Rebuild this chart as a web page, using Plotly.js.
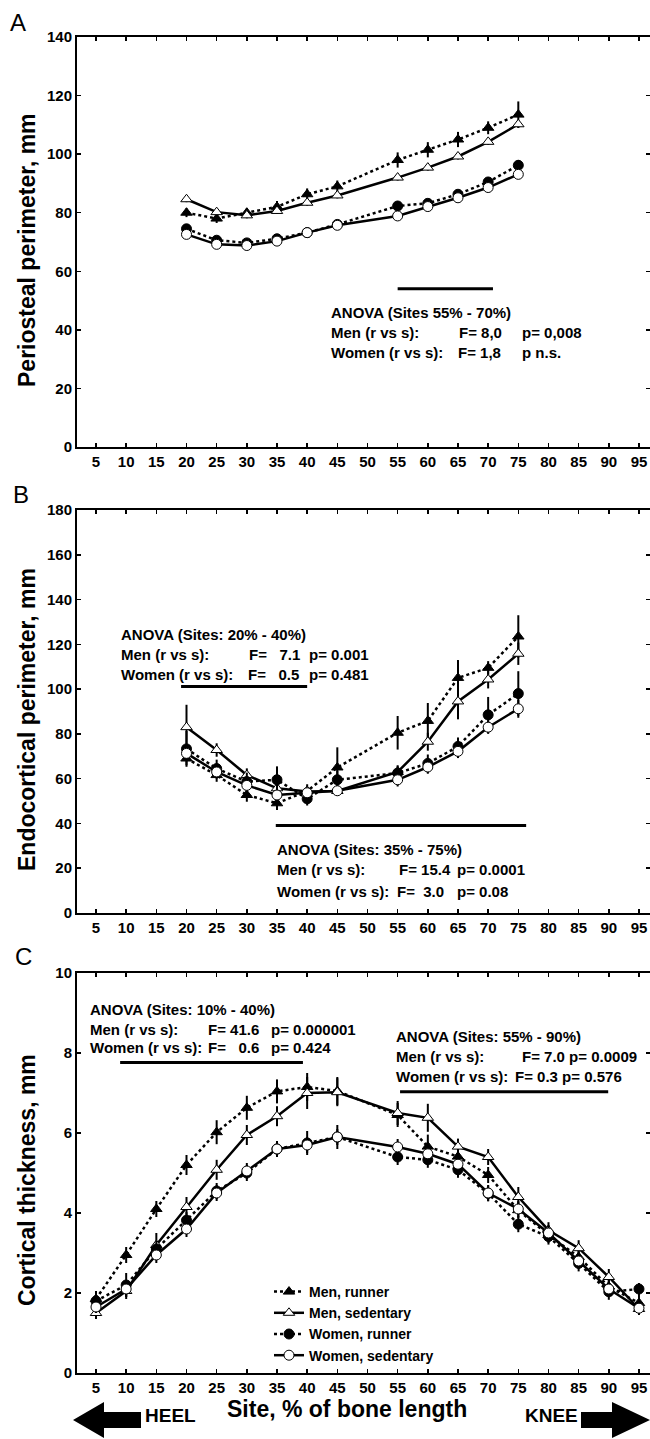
<!DOCTYPE html>
<html>
<head>
<meta charset="utf-8">
<script src="https://cdn.plot.ly/plotly-3.0.1.min.js"></script>
<style>
  html, body { margin: 0; padding: 0; background: #fff; }
  #chart { width: 650px; height: 1439px; }
</style>
</head>
<body>
<div id="chart"></div>
<script>
// ---------------- DATA ----------------
const sitesAB = [20, 25, 30, 35, 40, 45, 55, 60, 65, 70, 75];
const sitesC  = [5, 10, 15, 20, 25, 30, 35, 40, 45, 55, 60, 65, 70, 75, 80, 85, 90, 95];
const xTicks  = [5, 10, 15, 20, 25, 30, 35, 40, 45, 50, 55, 60, 65, 70, 75, 80, 85, 90, 95];
const seriesNames = ['Men, runner', 'Men, sedentary', 'Women, runner', 'Women, sedentary'];

// Panel A: periosteal perimeter, mm
const A_menRunner      = [80, 78, 80, 82, 86.3, 89, 98, 101.5, 105, 109, 113.5];
const A_menRunnerErr   = [1.5, 1.5, 1.5, 2, 2, 2, 2.6, 2.6, 2.6, 2.2, 4.5];
const A_menSed         = [84.6, 80.2, 79.1, 80.6, 83.4, 85.9, 92, 95.4, 99.2, 104.2, 110.2];
const A_menSedErr      = [1, 1, 1, 1, 1, 1, 1, 1, 1, 1, 1.2];
const A_womenRunner    = [74.5, 70.6, 69.7, 71.1, 73.2, 76, 82.3, 83.2, 86.3, 90.5, 96.2];
const A_womenRunnerErr = [1.5, 1.2, 1.2, 1.2, 1.2, 1.5, 1.5, 1.5, 1.5, 1.5, 1.8];
const A_womenSed       = [72.6, 69.2, 68.8, 70.3, 73.2, 75.7, 78.9, 82.1, 85.1, 88.6, 93.1];
const A_womenSedErr    = [1, 1, 1, 1, 1, 1, 1, 1, 1, 1, 1.2];

// Panel B: endocortical perimeter, mm
const B_menRunner      = [69, 61.6, 52.7, 49, 54.5, 65, 80.5, 85.8, 105, 109.5, 123.5];
const B_menRunnerErr   = [3, 3, 3, 3, 3, 9, 7.5, 8, 8, 3, 9.5];
const B_menSed         = [83, 72.8, 61.6, 55.7, 54.3, 54.5, 63, 76.5, 94.5, 104.3, 115.8];
const B_menSedErr      = [10, 3, 3, 3, 2, 2, 3, 4, 8, 4, 5];
const B_womenRunner    = [73.3, 64.5, 58.7, 59.5, 51, 59.5, 62.5, 66.8, 74.4, 88.5, 98];
const B_womenRunnerErr = [8, 4, 4, 6, 3, 4, 3, 4, 4, 8, 10];
const B_womenSed       = [71.3, 63, 57, 52.7, 53.7, 54.6, 59.5, 65.2, 72.2, 83, 91.2];
const B_womenSedErr    = [3, 3, 3, 3, 2, 2, 3, 3, 3, 3, 4];

// Panel C: cortical thickness, mm
const C_menRunner      = [1.85, 2.95, 4.1, 5.2, 6.02, 6.63, 7.04, 7.15, 7.05, 6.45, 5.66, 5.41, 4.95, 4.07, 3.45, 2.9, 2.16, 1.75];
const C_menRunnerErr   = [0.2, 0.2, 0.2, 0.25, 0.3, 0.3, 0.3, 0.35, 0.35, 0.3, 0.3, 0.2, 0.2, 0.2, 0.2, 0.2, 0.2, 0.2];
const C_menSed         = [1.5, 2.05, 3.2, 4.15, 5.08, 5.95, 6.42, 7.0, 7.02, 6.5, 6.38, 5.66, 5.4, 4.4, 3.57, 3.12, 2.4, 1.6];
const C_menSedErr      = [0.15, 0.2, 0.3, 0.25, 0.25, 0.25, 0.25, 0.4, 0.35, 0.3, 0.35, 0.2, 0.2, 0.25, 0.2, 0.2, 0.2, 0.15];
const C_womenRunner    = [1.8, 2.2, 3.1, 3.82, 4.55, 5.0, 5.6, 5.75, 5.9, 5.4, 5.33, 5.08, 4.49, 3.72, 3.41, 2.74, 2.03, 2.1];
const C_womenRunnerErr = [0.2, 0.3, 0.2, 0.2, 0.2, 0.2, 0.2, 0.3, 0.3, 0.2, 0.2, 0.2, 0.2, 0.2, 0.2, 0.2, 0.2, 0.15];
const C_womenSed       = [1.65, 2.1, 2.95, 3.6, 4.5, 5.05, 5.6, 5.7, 5.9, 5.65, 5.48, 5.22, 4.5, 4.1, 3.5, 2.8, 2.1, 1.62];
const C_womenSedErr    = [0.15, 0.2, 0.2, 0.2, 0.2, 0.2, 0.2, 0.2, 0.2, 0.2, 0.2, 0.2, 0.2, 0.2, 0.2, 0.2, 0.15, 0.15];

// ANOVA annotation texts and ranges
const anovaA = {
  bar: [55, 70.8, 54],
  lines: ['ANOVA (Sites 55% - 70%)', 'Men (r vs s):', 'Women (r vs s):'],
  F: ['', 'F=\u00a08,0', 'F=\u00a01,8'],
  p: ['', 'p=\u00a00,008', 'p n.s.']
};
const anovaB1 = {
  bar: [19.1, 40, 101.2],
  lines: ['ANOVA (Sites: 20% - 40%)', 'Men (r vs s):', 'Women (r vs s):'],
  F: ['', 'F=\u00a0\u00a0\u00a07.1', 'F=\u00a0\u00a0\u00a00.5'],
  p: ['', 'p=\u00a00.001', 'p=\u00a00.481']
};
const anovaB2 = {
  bar: [34.8, 76.3, 39.1],
  lines: ['ANOVA (Sites: 35% - 75%)', 'Men (r vs s):', 'Women (r vs s):'],
  F: ['', 'F=\u00a015.4', 'F=\u00a0\u00a03.0'],
  p: ['', 'p=\u00a00.0001', 'p=\u00a00.08']
};
const anovaC1 = {
  bar: [9.0, 39.3, 7.76],
  lines: ['ANOVA (Sites: 10% - 40%)', 'Men (r vs s):', 'Women (r vs s):'],
  F: ['', 'F=\u00a041.6', 'F=\u00a0\u00a0\u00a00.6'],
  p: ['', 'p=\u00a00.000001', 'p=\u00a00.424']
};
const anovaC2 = {
  bar: [55.4, 89.9, 7.03],
  lines: ['ANOVA (Sites: 55% - 90%)', 'Men (r vs s):', 'Women (r vs s):'],
  F: ['', 'F=\u00a07.0\u00a0p=\u00a00.0009', 'F=\u00a00.3\u00a0p=\u00a00.576'],
  p: ['', '', '']
};

// ---------------- STYLES ----------------
const W = 650, H = 1439;
const FONT = 'Liberation Sans, Arial, Helvetica, sans-serif';
const px2x = p => p / W;
const py2y = p => 1 - p / H;

const styles = [
  { dash: 'dot',   symbol: 'triangle-up', fill: '#000', size: 10 },
  { dash: 'solid', symbol: 'triangle-up', fill: '#fff', size: 10 },
  { dash: 'dot',   symbol: 'circle',      fill: '#000', size: 10 },
  { dash: 'solid', symbol: 'circle',      fill: '#fff', size: 10 }
];

function mk(x, y, err, i, xa, ya, legend) {
  const s = styles[i];
  return {
    type: 'scatter', mode: 'lines+markers',
    x: x, y: y, xaxis: xa, yaxis: ya,
    name: seriesNames[i], showlegend: legend, legendgroup: 'g' + i,
    line: { color: '#000', width: 2.5, dash: s.dash },
    marker: { symbol: s.symbol, size: s.size, color: s.fill, line: { color: '#000', width: 1 } },
    error_y: { type: 'data', array: err, visible: true, color: '#000', thickness: 2, width: 0 }
  };
}

const traces = [
  mk(sitesAB, A_menRunner, A_menRunnerErr, 0, 'x', 'y', false),
  mk(sitesAB, A_menSed, A_menSedErr, 1, 'x', 'y', false),
  mk(sitesAB, A_womenRunner, A_womenRunnerErr, 2, 'x', 'y', false),
  mk(sitesAB, A_womenSed, A_womenSedErr, 3, 'x', 'y', false),
  mk(sitesAB, B_menRunner, B_menRunnerErr, 0, 'x2', 'y2', false),
  mk(sitesAB, B_menSed, B_menSedErr, 1, 'x2', 'y2', false),
  mk(sitesAB, B_womenRunner, B_womenRunnerErr, 2, 'x2', 'y2', false),
  mk(sitesAB, B_womenSed, B_womenSedErr, 3, 'x2', 'y2', false),
  mk(sitesC, C_menRunner, C_menRunnerErr, 0, 'x3', 'y3', true),
  mk(sitesC, C_menSed, C_menSedErr, 1, 'x3', 'y3', true),
  mk(sitesC, C_womenRunner, C_womenRunnerErr, 2, 'x3', 'y3', true),
  mk(sitesC, C_womenSed, C_womenSedErr, 3, 'x3', 'y3', true)
];

const xDomain = [77 / W, 1.0];
const xRange = [5 + (77 - 96) / 6.033, 5 + (650 - 96) / 6.033];

function xAxis(anchor) {
  return {
    domain: xDomain, range: xRange, anchor: anchor,
    tickmode: 'array', tickvals: xTicks, ticktext: xTicks.map(String),
    ticks: 'inside', ticklen: 4, tickwidth: 1.5, tickcolor: '#000',
    showline: true, linewidth: 2, linecolor: '#000', mirror: 'ticks',
    showgrid: false, zeroline: false,
    tickfont: { family: FONT, size: 15, color: '#000', weight: 'bold' }
  };
}
function yAxis(anchor, top, bottom, range, dtick) {
  return {
    domain: [py2y(bottom), py2y(top)], range: range, anchor: anchor,
    dtick: dtick, tick0: 0,
    ticks: 'inside', ticklen: 4, tickwidth: 1.5, tickcolor: '#000',
    showline: true, linewidth: 2, linecolor: '#000', mirror: 'ticks',
    showgrid: false, zeroline: false,
    tickfont: { family: FONT, size: 15, color: '#000', weight: 'bold' }
  };
}

// ---------------- ANNOTATIONS ----------------
const annotations = [];
const shapes = [];
function txt(text, x, y, xref, yref, opts) {
  annotations.push(Object.assign({
    text: text, x: x, y: y, xref: xref, yref: yref,
    showarrow: false, xanchor: 'left', yanchor: 'middle',
    font: { family: FONT, size: 15, color: '#000', weight: 'bold' }
  }, opts || {}));
}
function anova(block, xa, ya, xText, xF, xP, yLines) {
  shapes.push({ type: 'line', xref: xa, yref: ya, x0: block.bar[0], x1: block.bar[1],
    y0: block.bar[2], y1: block.bar[2], line: { color: '#000', width: 3 } });
  for (let i = 0; i < 3; i++) {
    txt(block.lines[i], xText, yLines[i], xa, ya);
    if (block.F[i]) txt(block.F[i], xF[i], yLines[i], xa, ya);
    if (block.p[i]) txt(block.p[i], xP, yLines[i], xa, ya);
  }
}
anova(anovaA, 'x', 'y', 43.6, [0, 64.8, 64.6], 75.3, [45.9, 39.0, 32.2]);
anova(anovaB1, 'x2', 'y2', 8.8, [0, 30.0, 29.9], 40.0, [124.5, 115.5, 106.6]);
anova(anovaB2, 'x2', 'y2', 34.6, [0, 54.9, 54.6], 64.5, [28.2, 19.3, 9.5]);
anova(anovaC1, 'x3', 'y3', 3.6, [0, 23.2, 23.2], 33.6, [9.08, 8.6, 8.13]);
anova(anovaC2, 'x3', 'y3', 54.4, [0, 75.3, 74.2], 0, [8.41, 7.91, 7.41]);

// panel letters
const letterFont = { family: FONT, size: 24, color: '#000' };
txt('A', px2x(18), py2y(22), 'paper', 'paper', { xanchor: 'center', font: letterFont });
txt('B', px2x(21), py2y(494), 'paper', 'paper', { xanchor: 'center', font: letterFont });
txt('C', px2x(23), py2y(956), 'paper', 'paper', { xanchor: 'center', font: letterFont });

// axis titles
const titleFont = { family: FONT, size: 23, color: '#000', weight: 'bold' };
txt('Periosteal perimeter, mm', px2x(27), py2y(250), 'paper', 'paper', { xanchor: 'center', textangle: -90, font: titleFont });
txt('Endocortical perimeter, mm', px2x(27), py2y(720), 'paper', 'paper', { xanchor: 'center', textangle: -90, font: titleFont });
txt('Cortical thickness, mm', px2x(27), py2y(1180), 'paper', 'paper', { xanchor: 'center', textangle: -90, font: titleFont });
txt('Site, % of bone length', px2x(347), py2y(1409), 'paper', 'paper', { xanchor: 'center', font: titleFont });
const dirFont = { family: FONT, size: 19, color: '#000', weight: 'bold' };
txt('HEEL', px2x(170), py2y(1415), 'paper', 'paper', { xanchor: 'center', font: dirFont });
txt('KNEE', px2x(551), py2y(1415), 'paper', 'paper', { xanchor: 'center', font: dirFont });

// direction arrows
function poly(pts) {
  return 'M ' + pts.map(p => px2x(p[0]) + ',' + py2y(p[1])).join(' L ') + ' Z';
}
shapes.push({ type: 'path', xref: 'paper', yref: 'paper', fillcolor: '#000', line: { width: 0 },
  path: poly([[73, 1420], [104, 1402], [104, 1412], [141, 1412], [141, 1428], [104, 1428], [104, 1438]]) });
shapes.push({ type: 'path', xref: 'paper', yref: 'paper', fillcolor: '#000', line: { width: 0 },
  path: poly([[581, 1412], [612, 1412], [612, 1402], [650, 1420], [612, 1438], [612, 1428], [581, 1428]]) });

const layout = {
  width: W, height: H,
  margin: { l: 0, r: 0, t: 0, b: 0, pad: 0 },
  paper_bgcolor: '#fff', plot_bgcolor: '#fff',
  font: { family: FONT, color: '#000' },
  xaxis: xAxis('y'), yaxis: yAxis('x', 37, 447, [0, 140], 20),
  xaxis2: xAxis('y2'), yaxis2: yAxis('x2', 510, 913, [0, 180], 20),
  xaxis3: xAxis('y3'), yaxis3: yAxis('x3', 973, 1373, [0, 10], 2),
  showlegend: true,
  legend: {
    x: px2x(269), y: py2y(1276), xanchor: 'left', yanchor: 'top',
    bgcolor: 'rgba(0,0,0,0)', borderwidth: 0,
    font: { family: FONT, size: 14, color: '#000', weight: 'bold' },
    itemwidth: 30, tracegroupgap: 0
  },
  annotations: annotations,
  shapes: shapes
};

Plotly.newPlot('chart', traces, layout, { staticPlot: true, displayModeBar: false });
</script>
</body>
</html>
